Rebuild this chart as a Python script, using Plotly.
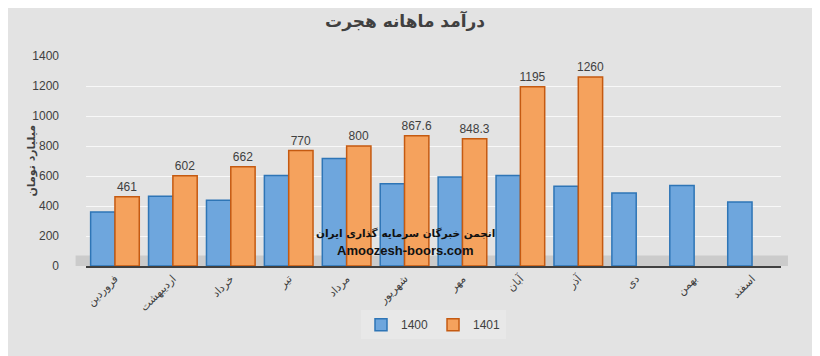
import plotly.graph_objects as go

months = ["فروردین", "اردیبهشت", "خرداد", "تیر", "مرداد", "شهریور",
          "مهر", "آبان", "آذر", "دی", "بهمن", "اسفند"]
values_1400 = [360, 465, 438, 604, 716, 549, 593, 604, 531, 486, 537, 427]
values_1401 = [461, 602, 662, 770, 800, 867.6, 848.3, 1195, 1260, None, None, None]
labels_1401 = ["461", "602", "662", "770", "800", "867.6", "848.3", "1195", "1260", "", "", ""]
y_ticks = [0, 200, 400, 600, 800, 1000, 1200, 1400]

fig = go.Figure()
fig.add_trace(go.Bar(
    x=months, y=values_1400, name="1400",
    marker=dict(color="#6ea6dd", line=dict(color="#2e75b6", width=1.5)),
))
fig.add_trace(go.Bar(
    x=months, y=values_1401, name="1401",
    marker=dict(color="#f5a25d", line=dict(color="#c55a11", width=1.5)),
    text=labels_1401, textposition="outside", cliponaxis=False, constraintext="none",
    textfont=dict(family="Liberation Sans", size=12, color="#404040"),
))

fig.update_layout(
    width=812, height=348,
    margin=dict(l=78, r=39, t=48, b=90, autoexpand=False),
    paper_bgcolor="#e3e3e3", plot_bgcolor="rgba(0,0,0,0)",
    barmode="group", bargap=0.16, bargroupgap=0.0,
    title=dict(text="<b>درآمد ماهانه هجرت</b>", x=0.489, xanchor="center", y=0.962, yanchor="middle",
               font=dict(family="DejaVu Sans", size=17, color="#404040")),
    font=dict(family="Liberation Sans", size=12, color="#404040"),
    showlegend=True,
    legend=dict(orientation="h", x=0.5, xanchor="center", y=-0.28, yanchor="middle",
                font=dict(size=12, color="#404040"), bgcolor="rgba(235,235,235,0.6)",
                itemwidth=30),
    xaxis=dict(tickangle=-45, tickfont=dict(family="DejaVu Sans", size=11, color="#404040"),
               showline=True, linecolor="#404040", linewidth=2, ticks="", automargin=False),
    yaxis=dict(range=[0, 1400], tickvals=y_ticks, gridcolor="rgba(255,255,255,0.75)",
               tickfont=dict(size=12, color="#404040"), zeroline=False, automargin=False,
               ticklabelstandoff=26),
    shapes=[dict(type="rect", xref="paper", yref="paper", x0=-0.015, x1=1.01, y0=0, y1=0.05,
                 fillcolor="#cbcbcb", line=dict(width=0), layer="below")],
)

fig.add_annotation(xref="paper", yref="paper", x=-0.092, y=0.5, showarrow=False, textangle=-90,
                   text="<b>میلیارد تومان</b>",
                   font=dict(family="DejaVu Sans", size=11, color="#404040"))
fig.add_annotation(xref="paper", yref="paper", x=0.459, y=0.115, showarrow=False,
                   text="<b>انجمن خبرگان سرمایه گذاری ایران</b>",
                   font=dict(family="DejaVu Sans", size=10.5, color="#111111"))
fig.add_annotation(xref="paper", yref="paper", x=0.459, y=0.03, showarrow=False,
                   text="<b>Amoozesh-boors.com</b>",
                   font=dict(family="Liberation Sans", size=13, color="#111111"))

fig.write_html("out.html")
